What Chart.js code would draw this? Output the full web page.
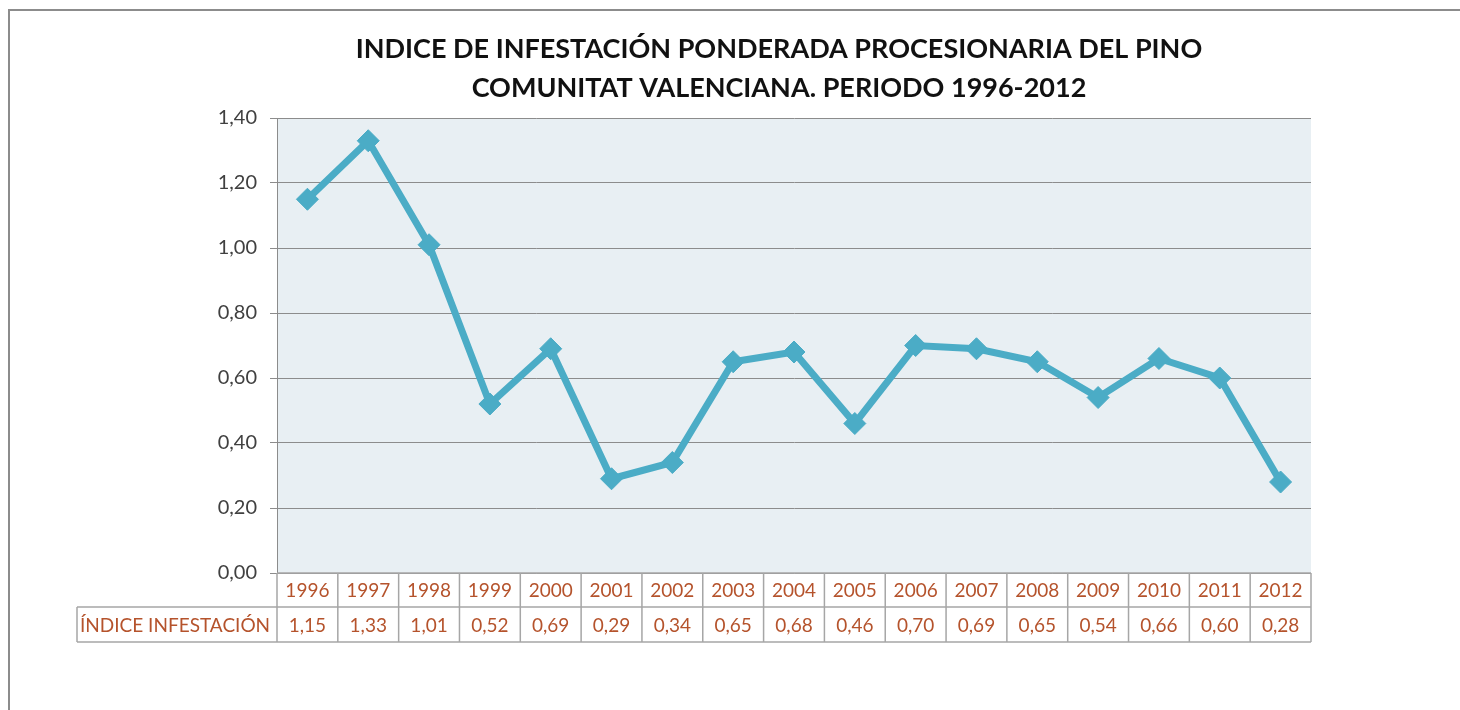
<!DOCTYPE html>
<html>
<head>
<meta charset="utf-8">
<script src="https://cdn.jsdelivr.net/npm/chart.js@4.4.1/dist/chart.umd.min.js"></script>
<style>
  html, body { margin: 0; padding: 0; background: #fff; }
  #wrap { width: 1460px; height: 710px; position: relative; }
</style>
</head>
<body>
<div id="wrap"><canvas id="indice"></canvas></div>
<script>
// datos
var years = ["1996", "1997", "1998", "1999", "2000", "2001", "2002", "2003", "2004",
  "2005", "2006", "2007", "2008", "2009", "2010", "2011", "2012"];
var indice = [1.15, 1.33, 1.01, 0.52, 0.69, 0.29, 0.34, 0.65, 0.68,
  0.46, 0.70, 0.69, 0.65, 0.54, 0.66, 0.60, 0.28];
var yTicks = [0, 0.2, 0.4, 0.6, 0.8, 1.0, 1.2, 1.4];
var titleLines = ["INDICE DE INFESTACIÓN PONDERADA PROCESIONARIA DEL PINO",
  "COMUNITAT VALENCIANA. PERIODO 1996-2012"];
var seriesName = "ÍNDICE INFESTACIÓN";

function coma(v) {
  return v.toFixed(2).replace(".", ",");
}

// marco, fondo del area y titulo
var fondo = {
  id: "fondo",
  beforeDraw: function (chart) {
    var ctx = chart.ctx, a = chart.chartArea;
    ctx.save();
    ctx.strokeStyle = "#8c8c8c";
    ctx.lineWidth = 2;
    ctx.strokeRect(9, 10, 1470, 720);
    ctx.fillStyle = "#e8eff3";
    ctx.fillRect(a.left, a.top, a.right - a.left, a.bottom - a.top);
    ctx.fillStyle = "#111";
    ctx.font = "bold 27px Lato";
    ctx.textAlign = "center";
    ctx.textBaseline = "middle";
    ctx.fillText(titleLines[0], 779, 49);
    ctx.fillText(titleLines[1], 779, 88);
    ctx.restore();
  }
};

// tabla de datos bajo el eje
var tabla = {
  id: "tabla",
  afterDraw: function (chart) {
    var ctx = chart.ctx, a = chart.chartArea;
    var x = chart.scales.x;
    var w = (a.right - a.left) / years.length;
    var r1 = a.bottom, r2 = a.bottom + 34, r3 = a.bottom + 69;
    var left = 77;
    ctx.save();
    ctx.strokeStyle = "#a6a6a6";
    ctx.lineWidth = 1.5;
    ctx.beginPath();
    ctx.moveTo(a.left, r1); ctx.lineTo(a.right, r1);
    ctx.moveTo(left, r2); ctx.lineTo(a.right, r2);
    ctx.moveTo(left, r3); ctx.lineTo(a.right, r3);
    ctx.moveTo(left, r2); ctx.lineTo(left, r3);
    for (var i = 0; i <= years.length; i++) {
      var xx = a.left + i * w;
      ctx.moveTo(xx, r1); ctx.lineTo(xx, r3);
    }
    ctx.stroke();
    ctx.fillStyle = "#b5532c";
    ctx.font = "19px Lato";
    ctx.textBaseline = "middle";
    ctx.textAlign = "center";
    years.forEach(function (y, i) {
      var cx = x.getPixelForValue(i);
      ctx.fillText(y, cx, (r1 + r2) / 2 + 1);
      ctx.fillText(coma(indice[i]), cx, (r2 + r3) / 2 + 1);
    });
    ctx.textAlign = "left";
    ctx.fillText(seriesName, left + 3, (r2 + r3) / 2 + 1);
    ctx.restore();
  }
};

var ctx = document.getElementById("indice").getContext("2d");
var chart = new Chart(ctx, {
  type: "line",
  data: {
    labels: years,
    datasets: [
      {
        label: seriesName,
        data: indice,
        borderColor: "#4bacc6",
        backgroundColor: "#4bacc6",
        borderWidth: 7,
        pointStyle: "rectRot",
        pointRadius: 11,
        pointHoverRadius: 11,
        pointBorderWidth: 1,
        tension: 0,
      },
    ],
  },
  options: {
    responsive: true,
    maintainAspectRatio: false,
    animation: false,
    layout: { padding: { top: 118, right: 149, left: 0, bottom: 0 } },
    plugins: {
      legend: { display: false },
      title: { display: false },
      tooltip: { enabled: false },
    },
    scales: {
      x: {
        offset: true,
        grid: { display: false },
        border: { display: false },
        ticks: { display: false },
        afterFit: function (scale) { scale.height = 137; },
      },
      y: {
        min: 0,
        max: 1.4,
        afterBuildTicks: function (scale) {
          scale.ticks = yTicks.map(function (v) { return { value: v }; });
        },
        afterFit: function (scale) { scale.width = 277; },
        grid: { color: "#8c8c8c", lineWidth: 1, tickLength: 7 },
        border: { color: "#8c8c8c", width: 1 },
        ticks: {
          padding: 13,
          color: "#404040",
          font: { family: "Lato", size: 20 },
          callback: function (v) { return coma(v); },
        },
      },
    },
  },
  plugins: [fondo, tabla],
});
</script>
</body>
</html>
